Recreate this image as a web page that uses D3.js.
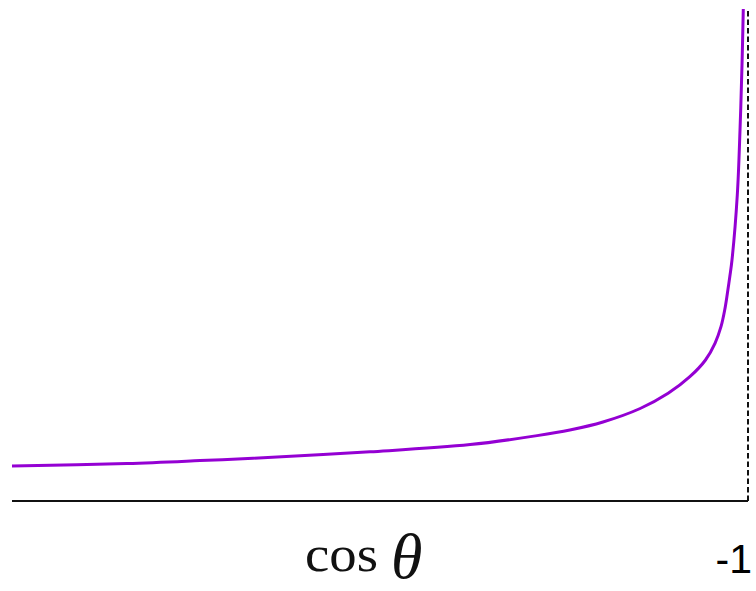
<!DOCTYPE html>
<html>
<head>
<meta charset="utf-8">
<script src="https://cdn.jsdelivr.net/npm/d3@7"></script>
<style>
  html, body { margin: 0; padding: 0; background: #fff; }
  svg { display: block; }
</style>
</head>
<body>
<svg id="chart" width="756" height="591"></svg>
<script>
// cos(theta), left (1) to right (close to -1)
const cosTheta = [1.0, 0.6875, 0.489, 0.345, 0.027, -0.245, -0.427, -0.516, -0.606, -0.707,
  -0.783, -0.842, -0.8845, -0.9103, -0.9266, -0.9367, -0.944, -0.9505, -0.9565, -0.9709,
  -0.9783, -0.9837, -0.9872]
// curve height, in units where cos = 0 gives about 1
const curveValue = [0.711, 0.762, 0.821, 0.87, 1.0, 1.146, 1.329, 1.443, 1.606, 1.88,
  2.189, 2.526, 2.866, 3.205, 3.543, 3.882, 4.221, 4.559, 4.898, 6.22,
  7.54, 8.86, 10.0]
const xDomain = [1, -1]
const yDomain = [0, 10]
const xTickLabel = '-1'

const svg = d3.select('#chart')

const x = d3.scaleLinear().domain(xDomain).range([12, 748])
const y = d3.scaleLinear().domain(yDomain).range([501, 9])

// baseline
svg.append('line')
  .attr('x1', x(xDomain[0]))
  .attr('x2', x(xDomain[1]))
  .attr('y1', y(0))
  .attr('y2', y(0))
  .attr('stroke', '#111')
  .attr('stroke-width', 2)

// asymptote at cos = -1
svg.append('line')
  .attr('x1', x(-1))
  .attr('x2', x(-1))
  .attr('y1', y(0))
  .attr('y2', y(yDomain[1]) - 1)
  .attr('stroke', '#111')
  .attr('stroke-width', 2)
  .attr('stroke-dasharray', '5.5,3')

const pts = cosTheta.map((c, i) => [c, curveValue[i]])

const line = d3.line()
  .x((d) => x(d[0]))
  .y((d) => y(d[1]))
  .curve(d3.curveCatmullRom.alpha(0.5))

svg.append('path')
  .datum(pts)
  .attr('d', line)
  .attr('fill', 'none')
  .attr('stroke', '#9400d3')
  .attr('stroke-width', 3)

// labels
svg.append('text')
  .attr('x', 305)
  .attr('y', 571)
  .attr('font-family', 'Liberation Serif, serif')
  .attr('font-size', 50)
  .attr('textLength', 73)
  .attr('lengthAdjust', 'spacingAndGlyphs')
  .attr('fill', '#111')
  .text('cos')

svg.append('text')
  .attr('x', 391)
  .attr('y', 578)
  .attr('font-family', 'Liberation Serif, serif')
  .attr('font-style', 'italic')
  .attr('font-size', 64)
  .attr('fill', '#111')
  .text('θ')

svg.append('text')
  .attr('x', 752)
  .attr('y', 573)
  .attr('text-anchor', 'end')
  .attr('font-family', 'Liberation Sans, sans-serif')
  .attr('font-size', 41)
  .attr('fill', '#000')
  .text(xTickLabel)
</script>
</body>
</html>
